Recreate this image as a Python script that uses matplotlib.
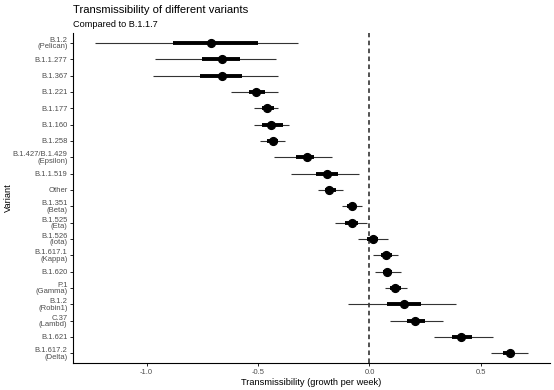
import numpy as np
import matplotlib
matplotlib.use("Agg")
import matplotlib.pyplot as plt

plt.rcParams["font.family"] = ["Liberation Sans", "DejaVu Sans"]

variants = [
    "B.1.2\n(Pelican)", "B.1.1.277", "B.1.367", "B.1.221", "B.1.177",
    "B.1.160", "B.1.258", "B.1.427/B.1.429\n(Epsilon)", "B.1.1.519", "Other",
    "B.1.351\n(Beta)", "B.1.525\n(Eta)", "B.1.526\n(Iota)", "B.1.617.1\n(Kappa)",
    "B.1.620", "P.1\n(Gamma)", "B.1.2\n(Robin1)", "C.37\n(Lambd)", "B.1.621",
    "B.1.617.2\n(Delta)",
]
estimate = [-0.71, -0.66, -0.66, -0.51, -0.46, -0.44, -0.435, -0.28, -0.19, -0.18,
            -0.08, -0.08, 0.015, 0.075, 0.08, 0.115, 0.155, 0.205, 0.41, 0.63]
# outer interval (thin line)
lo_outer = [-1.23, -0.96, -0.97, -0.62, -0.52, -0.52, -0.49, -0.43, -0.35, -0.23,
            -0.125, -0.155, -0.05, 0.015, 0.025, 0.07, -0.095, 0.093, 0.29, 0.545]
hi_outer = [-0.32, -0.42, -0.41, -0.41, -0.41, -0.36, -0.38, -0.17, -0.045, -0.12,
            -0.035, -0.013, 0.085, 0.13, 0.14, 0.17, 0.39, 0.33, 0.555, 0.71]
# inner interval (thick line)
lo_inner = [-0.88, -0.75, -0.76, -0.54, -0.48, -0.48, -0.46, -0.33, -0.24, -0.20,
            -0.10, -0.11, -0.01, 0.05, 0.06, 0.09, 0.08, 0.17, 0.37, 0.60]
hi_inner = [-0.50, -0.58, -0.57, -0.47, -0.43, -0.39, -0.41, -0.25, -0.14, -0.15,
            -0.06, -0.05, 0.04, 0.10, 0.10, 0.14, 0.23, 0.25, 0.46, 0.65]

fig = plt.figure(figsize=(5.54, 3.9), dpi=100)
ax = fig.add_axes([0.1318, 0.0692, 0.861, 0.846])

y = np.arange(1, len(variants) + 1)

ax.axvline(0, color="#222222", linestyle=(0, (3, 2.2)), linewidth=1.1, zorder=1)
ax.hlines(y, lo_outer, hi_outer, color="#333333", linewidth=0.8, zorder=2)
ax.hlines(y, lo_inner, hi_inner, color="black", linewidth=2.8, zorder=3)
ax.plot(estimate, y, "o", color="black", markersize=5.6, zorder=4)

ax.set_ylim(len(variants) + 0.6, 0.4)
ax.set_xlim(-1.33, 0.81)
ax.set_yticks(y)
ax.set_yticklabels(variants, linespacing=0.92)
ax.set_xticks([-1.0, -0.5, 0.0, 0.5])
ax.set_xticklabels(["-1.0", "-0.5", "0.0", "0.5"])

ax.tick_params(axis="both", labelsize=5.5, colors="black", labelcolor="#4D4D4D",
               length=2.5, width=0.6, pad=1.5)
for side in ["top", "right"]:
    ax.spines[side].set_visible(False)
for side in ["left", "bottom"]:
    ax.spines[side].set_linewidth(0.8)
    ax.spines[side].set_color("black")

ax.set_xlabel("Transmissibility (growth per week)", fontsize=6.7, labelpad=2)
fig.text(8 / 554, 1 - 198 / 390, "Variant", fontsize=6.7, rotation=90,
         ha="center", va="center")

fig.text(73 / 554, 1 - 13 / 390, "Transmissibility of different variants",
         fontsize=8.1, ha="left", va="baseline")
fig.text(73 / 554, 1 - 27 / 390, "Compared to B.1.1.7",
         fontsize=6.6, ha="left", va="baseline")

fig.savefig("out.png", dpi=100)
